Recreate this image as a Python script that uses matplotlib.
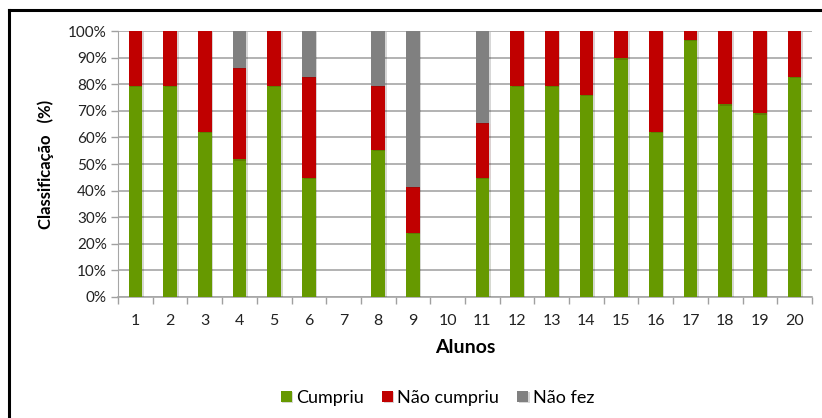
import numpy as np
import matplotlib.pyplot as plt
from matplotlib.lines import Line2D
from matplotlib import patheffects as pe

plt.rcParams['font.family'] = ['Lato', 'DejaVu Sans']

alunos = [str(i) for i in range(1, 21)]
# percentagem por aluno (alunos 7 e 10 sem registo)
cumpriu = [79.3, 79.3, 62.1, 51.7, 79.3, 44.8, 0, 55.2, 24.1, 0,
           44.8, 79.3, 79.3, 75.9, 89.7, 62.1, 96.6, 72.4, 69.0, 82.8]
nao_cumpriu = [20.7, 20.7, 37.9, 34.5, 20.7, 37.9, 0, 24.1, 17.2, 0,
               20.7, 20.7, 20.7, 24.1, 10.3, 37.9, 3.4, 27.6, 31.0, 17.2]
nao_fez = [0, 0, 0, 13.8, 0, 17.2, 0, 20.7, 58.6, 0,
           34.5, 0, 0, 0, 0, 0, 0, 0, 0, 0]

verde = '#669900'
vermelho = '#C00000'
cinza = '#808080'

fig = plt.figure(figsize=(8.22, 4.18), dpi=100)
ax = fig.add_axes([0.1436, 0.2895, 0.8442, 0.6363])

x = np.arange(len(alunos))
w = 0.39
sombra = [pe.SimplePatchShadow(offset=(1.2, -0.8), alpha=0.18), pe.Normal()]
base = np.zeros(len(alunos))
for vals, cor, nome in [(cumpriu, verde, 'Cumpriu'),
                        (nao_cumpriu, vermelho, 'Não cumpriu'),
                        (nao_fez, cinza, 'Não fez')]:
    bars = ax.bar(x, vals, w, bottom=base, color=cor, label=nome, zorder=3)
    for b in bars:
        b.set_path_effects(sombra)
    base += np.array(vals)

ax.set_xlim(-0.5, 19.5)
ax.set_ylim(0, 100)
ax.set_yticks(np.arange(0, 101, 10))
ax.set_yticklabels([f'{v}%' for v in range(0, 101, 10)], fontsize=11, color='#222222')
ax.set_xticks(x)
ax.set_xticklabels(alunos, fontsize=11.5, color='#222222')
ax.set_xticks(np.arange(-0.5, 20, 1), minor=True)
ax.tick_params(axis='x', which='major', length=0, pad=12)
ax.tick_params(axis='x', which='minor', length=5, color='#a0a0a0', width=1)
ax.tick_params(axis='y', length=5, color='#a0a0a0', width=1, pad=3)
ax.grid(axis='y', color='#a6a6a6', linewidth=1.2, zorder=0)

for s in ['top', 'right']:
    ax.spines[s].set_visible(False)
ax.spines['left'].set_color('#a6a6a6')
ax.spines['bottom'].set_color('#a6a6a6')
ax.spines['bottom'].set_linewidth(1.2)

ax.set_xlabel('Alunos', fontsize=14, fontweight='bold', labelpad=8)
ax.set_ylabel('Classificação   (%)', fontsize=12, fontweight='bold', labelpad=10)

leg = fig.legend(loc='center', bbox_to_anchor=(0.532, 0.048), ncol=3, frameon=False,
                 fontsize=13, handlelength=0.6, handleheight=0.6, handletextpad=0.25,
                 columnspacing=1.0)

# moldura do gráfico (topo e esquerda)
fig.add_artist(Line2D([0.0105, 1.0], [0.975, 0.975], color='black', lw=2.2,
                      transform=fig.transFigure))
fig.add_artist(Line2D([0.0105, 0.0105], [0.0, 0.975], color='black', lw=2.2,
                      transform=fig.transFigure))

fig.savefig('out.png', dpi=100)
